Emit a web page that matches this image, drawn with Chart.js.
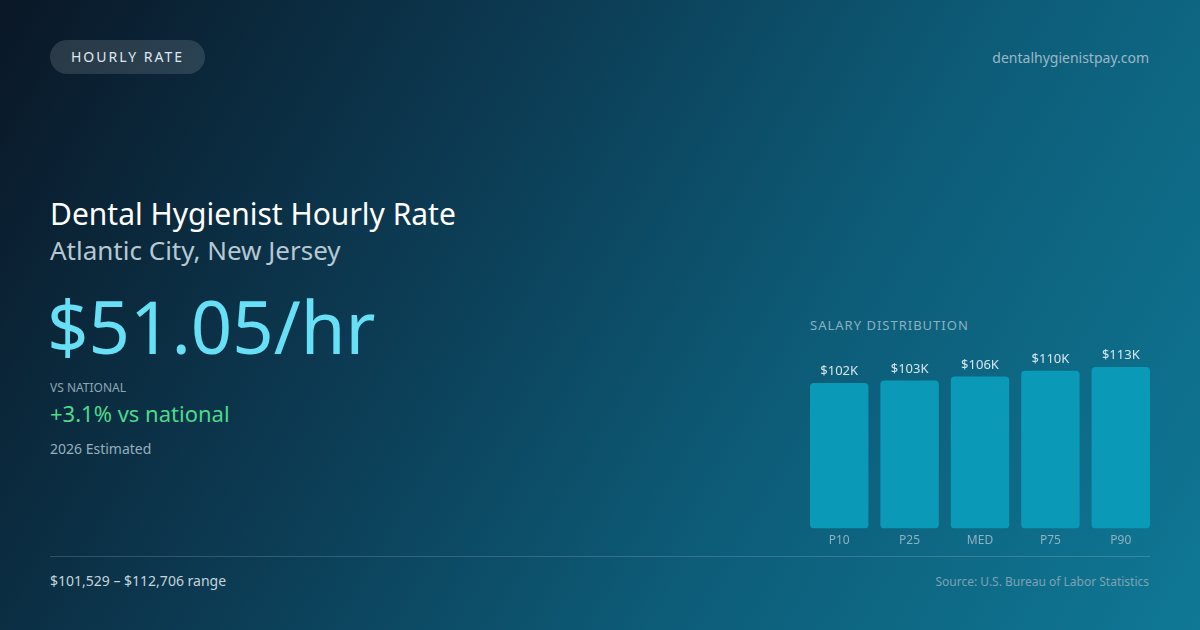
<!DOCTYPE html>
<html>
<head>
<meta charset="utf-8">
<script src="https://cdn.jsdelivr.net/npm/chart.js@4/dist/chart.umd.min.js"></script>
<style>
  html, body { margin: 0; padding: 0; }
  body {
    width: 1200px; height: 630px; overflow: hidden; position: relative;
    font-family: "Noto Sans", "Open Sans", sans-serif;
    background: linear-gradient(120deg, #0a1726 0%, #0c3a52 35%, #0d5c78 65%, #0f7895 100%);
  }
  .abs { position: absolute; white-space: nowrap; }
  .pill {
    left: 50px; top: 40px; width: 155px; height: 34px; border-radius: 17px;
    background: rgba(255,255,255,0.13); color: #dfe8ee; font-size: 14px;
    letter-spacing: 2px; line-height: 34px; text-align: center;
  }
  .site { right: 51px; top: 48px; font-size: 14px; color: #9cb8c6; }
  .title { left: 50px; top: 193px; font-size: 30px; color: #ffffff; }
  .sub { left: 50px; top: 232px; font-size: 26px; color: #b6c8d2; }
  .big { left: 47px; top: 286px; font-size: 72.5px; color: #67e0f6; line-height: 1.1; }
  .vsl { left: 50px; top: 379px; font-size: 12px; color: #8ea6b4; }
  .vs { left: 50px; top: 398px; font-size: 22px; color: #4cd98a; }
  .est { left: 50px; top: 439px; font-size: 14px; color: #98aebb; }
  .rule { left: 50px; top: 556px; width: 1100px; height: 1px; background: rgba(255,255,255,0.16); }
  .range { left: 50px; top: 571px; font-size: 14px; color: #c5d4dc; }
  .src { right: 51px; top: 573px; font-size: 12px; color: #7fa2b3; }
  .dist { left: 810px; top: 316px; font-size: 13px; letter-spacing: 1px; color: #8db0c0; }
  #chartWrap { position: absolute; left: 804px; top: 335px; width: 352px; height: 218px; }
</style>
</head>
<body>
<div class="abs pill">HOURLY RATE</div>
<div class="abs site">dentalhygienistpay.com</div>
<div class="abs title">Dental Hygienist Hourly Rate</div>
<div class="abs sub">Atlantic City, New Jersey</div>
<div class="abs big">$51.05/hr</div>
<div class="abs vsl">VS NATIONAL</div>
<div class="abs vs">+3.1% vs national</div>
<div class="abs est">2026 Estimated</div>
<div class="abs rule"></div>
<div class="abs range">$101,529 – $112,706 range</div>
<div class="abs src">Source: U.S. Bureau of Labor Statistics</div>
<div class="abs dist">SALARY DISTRIBUTION</div>
<div id="chartWrap"><canvas id="salaryChart"></canvas></div>

<script>
// Percentile salaries, in thousands of dollars
const percentiles = ['P10', 'P25', 'MED', 'P75', 'P90'];
const salaries = [101.5, 103.2, 106.0, 110.0, 112.7];
const salaryLabels = ['$102K', '$103K', '$106K', '$110K', '$113K'];

document.addEventListener('DOMContentLoaded', () => {
    const ctx = document.getElementById('salaryChart').getContext('2d');

    // Draws the value label above each bar
    const valueLabels = {
        id: 'valueLabels',
        afterDatasetsDraw(chart) {
            const meta = chart.getDatasetMeta(0);
            const c = chart.ctx;
            c.save();
            c.font = '13px "Noto Sans", sans-serif';
            c.fillStyle = '#d6e6ee';
            c.textAlign = 'center';
            c.textBaseline = 'bottom';
            meta.data.forEach((bar, i) => {
                c.fillText(salaryLabels[i], bar.x, bar.y - 5);
            });
            c.restore();
        }
    };

    new Chart(ctx, {
        type: 'bar',
        data: {
            labels: percentiles,
            datasets: [{
                data: salaries,
                backgroundColor: '#0a9ab8',
                borderRadius: 4,
                borderSkipped: false,
                barPercentage: 0.83,
                categoryPercentage: 1.0
            }]
        },
        options: {
            responsive: true,
            maintainAspectRatio: false,
            animation: false,
            layout: { padding: 0 },
            plugins: {
                legend: { display: false },
                tooltip: { enabled: false }
            },
            scales: {
                x: {
                    grid: { display: false, drawTicks: false },
                    border: { display: false },
                    ticks: {
                        color: '#8fb2c2',
                        padding: 5,
                        font: { family: '"Noto Sans", sans-serif', size: 12 }
                    }
                },
                y: {
                    display: false,
                    min: 0,
                    max: 135
                }
            }
        },
        plugins: [valueLabels]
    });
});
</script>
</body>
</html>
